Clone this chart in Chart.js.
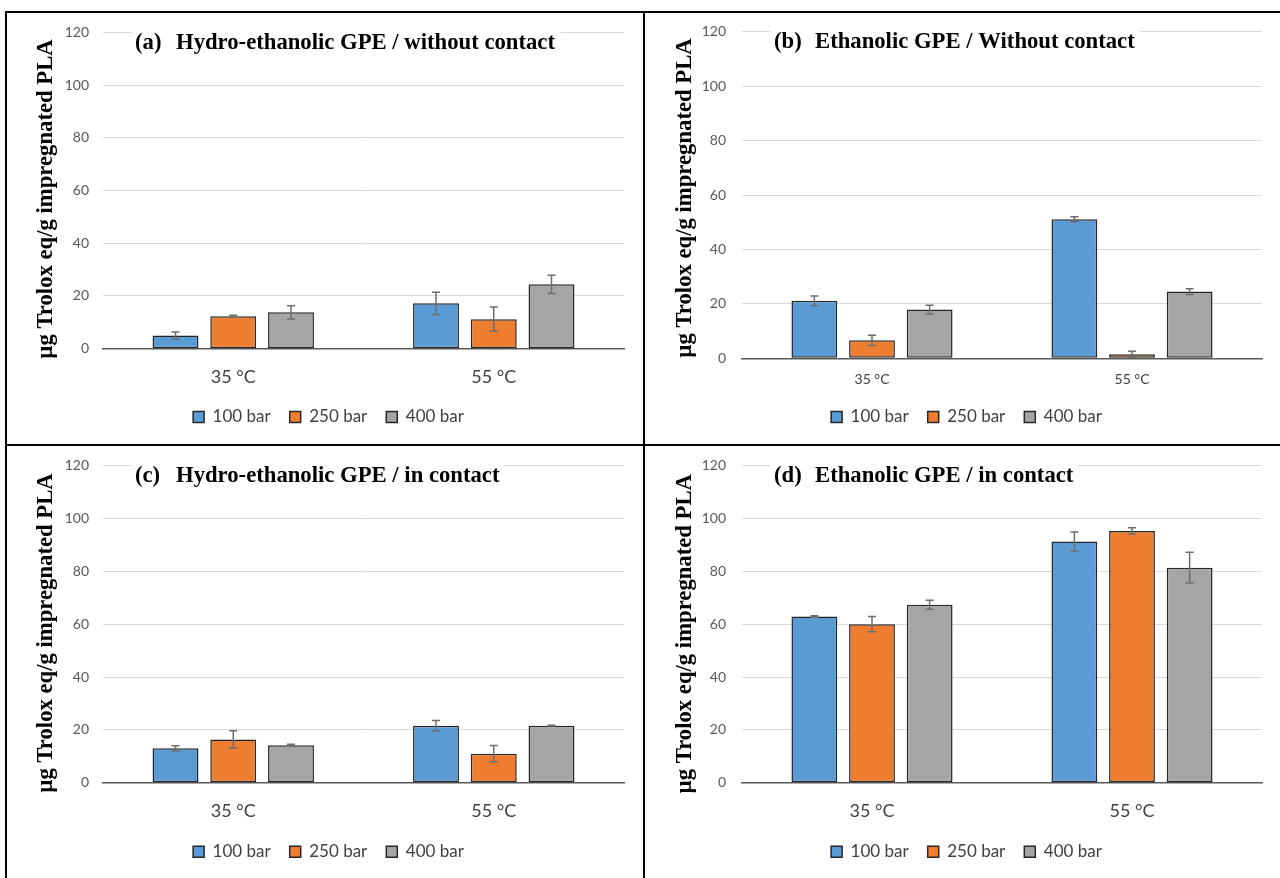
<!DOCTYPE html>
<html>
<head>
<meta charset="utf-8">
<script src="https://cdn.jsdelivr.net/npm/chart.js@4.4.1/dist/chart.umd.min.js"></script>
<style>
  html, body { margin: 0; padding: 0; background: #fff; }
  body { width: 1280px; height: 878px; position: relative; overflow: hidden; }
  canvas { position: absolute; }
  .rule { position: absolute; background: #000; }
</style>
</head>
<body>
<div class="rule" style="left:5px;top:11px;width:1275px;height:2px"></div>
<div class="rule" style="left:5px;top:11px;width:2px;height:867px"></div>
<div class="rule" style="left:643px;top:11px;width:2px;height:867px"></div>
<div class="rule" style="left:5px;top:444px;width:1275px;height:2px"></div>

<canvas id="pa" width="636" height="431" style="left:7px;top:13px"></canvas>
<canvas id="pb" width="635" height="431" style="left:645px;top:13px"></canvas>
<canvas id="pc" width="636" height="432" style="left:7px;top:446px"></canvas>
<canvas id="pd" width="635" height="432" style="left:645px;top:446px"></canvas>

<script>
// Categories, series and axis ticks
const CATEGORIES = ['35 °C', '55 °C'];
const SERIES = ['100 bar', '250 bar', '400 bar'];
const Y_MIN = 0, Y_MAX = 120, Y_STEP = 20;
const Y_TITLE = 'µg Trolox eq/g impregnated PLA';

// (a) Hydro-ethanolic GPE / without contact — means and standard deviations
const A_100 = [5.0, 17.2];
const A_250 = [12.3, 11.2];
const A_400 = [13.8, 24.4];
const A_100_SD = [1.3, 4.2];
const A_250_SD = [0.4, 4.6];
const A_400_SD = [2.5, 3.5];

// (b) Ethanolic GPE / Without contact
const B_100 = [21.1, 51.1];
const B_250 = [6.6, 1.5];
const B_400 = [17.9, 24.5];
const B_100_SD = [1.8, 0.9];
const B_250_SD = [1.9, 1.1];
const B_400_SD = [1.6, 1.1];

// (c) Hydro-ethanolic GPE / in contact
const C_100 = [13.0, 21.6];
const C_250 = [16.4, 11.0];
const C_400 = [14.2, 21.6];
const C_100_SD = [1.0, 1.9];
const C_250_SD = [3.3, 3.1];
const C_400_SD = [0.4, 0.15];

// (d) Ethanolic GPE / in contact
const D_100 = [62.9, 91.3];
const D_250 = [60.0, 95.3];
const D_400 = [67.4, 81.4];
const D_100_SD = [0.3, 3.6];
const D_250_SD = [2.9, 1.2];
const D_400_SD = [1.7, 5.8];

const PANEL_TAGS = ['(a)', '(b)', '(c)', '(d)'];
const PANEL_TITLES = [
  'Hydro-ethanolic GPE / without contact',
  'Ethanolic GPE / Without contact',
  'Hydro-ethanolic GPE / in contact',
  'Ethanolic GPE / in contact'
];

const SERIES_COLORS = ['#5b9bd5', '#ed7d31', '#a5a5a5'];
const BAR_EDGE = '#262626';
const SERIF_BOLD = 'bold 22.7px "Liberation Serif", "DejaVu Serif", serif';
const LEGEND_FONT = 17, LEGEND_PAD = 19;
const LEFT_PAD = 26;

Chart.defaults.font.family = 'Lato, "Open Sans", sans-serif';

// Error bars: vertical whisker with caps, from mean ± sd on the value scale
const errorBarPlugin = {
  id: 'errorBars',
  afterDatasetsDraw(chart) {
    const { ctx } = chart;
    const y = chart.scales.y;
    ctx.save();
    ctx.strokeStyle = '#6e6e6e';
    ctx.lineWidth = 1.5;
    chart.data.datasets.forEach((ds, i) => {
      chart.getDatasetMeta(i).data.forEach((bar, j) => {
        const v = ds.data[j], e = ds.sd[j];
        const yHi = y.getPixelForValue(v + e);
        const yLo = y.getPixelForValue(Math.max(v - e, 0));
        const x = bar.x, cap = 4;
        ctx.beginPath();
        ctx.moveTo(x, yHi); ctx.lineTo(x, yLo);
        ctx.moveTo(x - cap, yHi); ctx.lineTo(x + cap, yHi);
        ctx.moveTo(x - cap, yLo); ctx.lineTo(x + cap, yLo);
        ctx.stroke();
      });
    });
    ctx.restore();
  }
};

// Panel heading inside the plot (on a white box) and the rotated value-axis title
const panelTextPlugin = {
  id: 'panelText',
  afterDraw(chart, args, opts) {
    const { ctx, chartArea: a } = chart;
    ctx.save();
    ctx.font = SERIF_BOLD;
    ctx.textAlign = 'left';
    ctx.textBaseline = 'alphabetic';
    const tagX = a.left + 32;
    const mainX = tagX + 41;
    const base = a.top + 16.5;
    const mainW = ctx.measureText(opts.title).width;
    const boxL = a.left + 28.5;
    ctx.fillStyle = '#ffffff';
    ctx.fillRect(boxL, a.top - 4, mainX + mainW + 5.5 - boxL, 24);
    ctx.fillStyle = '#000000';
    ctx.fillText(opts.tag, tagX, base);
    ctx.fillText(opts.title, mainX, base);

    ctx.translate(a.left - 51.5, opts.yTitleY);
    ctx.rotate(-Math.PI / 2);
    ctx.textAlign = 'center';
    ctx.fillText(Y_TITLE, 0, 0);
    ctx.restore();
  }
};

const PANELS = [
  { id: 'pa', values: [A_100, A_250, A_400], sd: [A_100_SD, A_250_SD, A_400_SD],
    area: { left: 96, right: 617, top: 19.3, bottom: 335.7 }, catSize: 18, catPad: 17.5, yPad: 14, legendY: 404, yTitleY: 186 },
  { id: 'pb', values: [B_100, B_250, B_400], sd: [B_100_SD, B_250_SD, B_400_SD],
    area: { left: 97, right: 617, top: 18.7, bottom: 345.3 }, catSize: 14, catPad: 12.6, yPad: 16, legendY: 404, yTitleY: 185 },
  { id: 'pc', values: [C_100, C_250, C_400], sd: [C_100_SD, C_250_SD, C_400_SD],
    area: { left: 96, right: 617, top: 19.7, bottom: 336.7 }, catSize: 18, catPad: 17.5, yPad: 14, legendY: 405.7, yTitleY: 187 },
  { id: 'pd', values: [D_100, D_250, D_400], sd: [D_100_SD, D_250_SD, D_400_SD],
    area: { left: 97, right: 617, top: 19.7, bottom: 336.7 }, catSize: 18, catPad: 17.5, yPad: 16, legendY: 405.7, yTitleY: 187.7 }
];

PANELS.forEach((p, k) => {
  const canvas = document.getElementById(p.id);
  const W = canvas.width, H = canvas.height;
  // legend row: top padding + item height, then chart.js adds 10px
  const legendTop = p.legendY - LEGEND_PAD - LEGEND_FONT / 2;
  const legendH = LEGEND_FONT + LEGEND_PAD + 10;
  const padBottom = H - (legendTop + legendH);
  const xAxisH = legendTop - p.area.bottom;

  const datasets = SERIES.map((label, i) => ({
    label,
    data: p.values[i],
    sd: p.sd[i],
    backgroundColor: SERIES_COLORS[i],
    borderColor: BAR_EDGE,
    borderWidth: 1.5,
    borderSkipped: false,
    categoryPercentage: 0.665,
    barPercentage: 0.795
  }));

  new Chart(canvas, {
    type: 'bar',
    data: { labels: CATEGORIES, datasets },
    options: {
      responsive: false,
      animation: false,
      devicePixelRatio: 1,
      layout: { padding: { top: p.area.top, right: W - p.area.right, left: LEFT_PAD, bottom: padBottom } },
      scales: {
        x: {
          grid: { display: false, drawTicks: false },
          border: { display: true, color: '#595959', width: 1.5 },
          ticks: { color: '#404040', font: { size: p.catSize }, padding: p.catPad },
          afterFit(scale) { scale.height = xAxisH; }
        },
        y: {
          min: Y_MIN, max: Y_MAX,
          grid: { color: '#d9d9d9', lineWidth: 1, drawTicks: false },
          border: { display: false },
          ticks: { stepSize: Y_STEP, color: '#595959', font: { size: 14 }, padding: p.yPad },
          afterFit(scale) {
            scale.width = p.area.left - LEFT_PAD;
            scale.paddingTop = 0;
            scale.paddingBottom = 0;
          }
        }
      },
      plugins: {
        legend: {
          position: 'bottom',
          labels: {
            boxWidth: 11, boxHeight: 11, padding: LEGEND_PAD,
            color: '#404040', font: { size: LEGEND_FONT }
          }
        },
        tooltip: { enabled: false },
        panelText: { tag: PANEL_TAGS[k], title: PANEL_TITLES[k], yTitleY: p.yTitleY }
      }
    },
    plugins: [errorBarPlugin, panelTextPlugin]
  });
});
</script>
</body>
</html>
